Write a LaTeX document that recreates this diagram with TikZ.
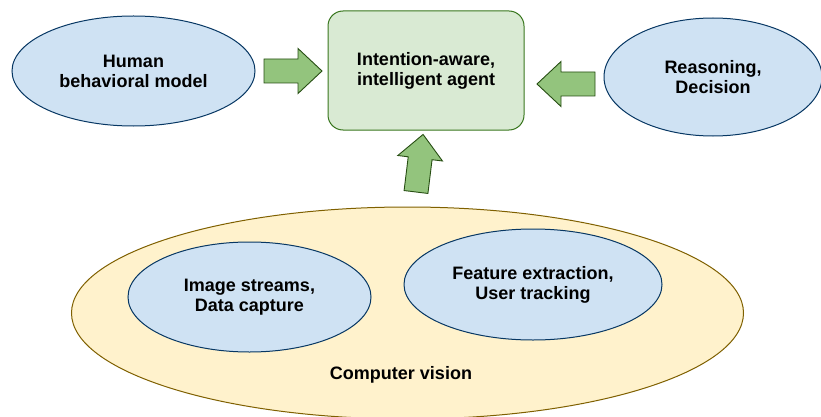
\documentclass[tikz,border=0pt]{standalone}
\usepackage{fontspec}
\setmainfont{Liberation Sans}
\usetikzlibrary{shapes.geometric}
\definecolor{blfill}{HTML}{CFE2F3}
\definecolor{bldraw}{HTML}{073763}
\definecolor{yefill}{HTML}{FFF2CC}
\definecolor{yedraw}{HTML}{7F6000}
\definecolor{grfill}{HTML}{D9EAD3}
\definecolor{grdraw}{HTML}{38761D}
\definecolor{arfill}{HTML}{93C47D}
\definecolor{ardraw}{HTML}{274E13}
\tikzset{
	lbl/.style={font=\fontsize{18}{20}\selectfont\bfseries, align=center, text=black},
	blob/.style={ellipse, draw=bldraw, fill=blfill, line width=1pt, inner sep=0pt, lbl},
	agentbox/.style={rectangle, rounded corners=15pt, draw=grdraw, fill=grfill, line width=1pt, lbl},
	arrowbody/.style={draw=ardraw, fill=arfill, line width=0.9pt, line join=miter},
	fatarrow/.pic={
		\draw[arrowbody] (0,-12) -- (34,-12) -- (34,-22.5) -- (58,0) -- (34,22.5) -- (34,12) -- (0,12) -- cycle;
	}
}
\begin{document}
\begin{tikzpicture}[x=1pt, y=-1pt]
	\useasboundingbox (0,0) rectangle (821,417);
	% computer vision part
	\node[ellipse, draw=yedraw, fill=yefill, line width=1pt, minimum width=672pt, minimum height=212pt] (cv) at (407.5,313) {};
	\node[lbl] (cvlbl) at (401,375) {Computer vision};
	\node[blob, minimum width=243pt, minimum height=110pt] (img) at (249.5,297) {Image streams,\\Data capture};
	\node[blob, minimum width=258pt, minimum height=111pt] (feat) at (533,284.5) {Feature extraction,\\User tracking};
	% top row
	\node[blob, minimum width=243pt, minimum height=110pt] (human) at (133.5,71) {Human\\behavioral model};
	\node[agentbox, minimum width=196pt, minimum height=119pt] (agent) at (426,70.5) {Intention-aware,\\intelligent agent};
	\node[blob, minimum width=218pt, minimum height=118pt] (reason) at (713,77) {Reasoning,\\Decision};
	% big arrows
	\pic at (264,71) {fatarrow};
	\pic[rotate=180] at (595,84) {fatarrow};
	\pic[rotate=83] at (416,192) {fatarrow};
\end{tikzpicture}
\end{document}
